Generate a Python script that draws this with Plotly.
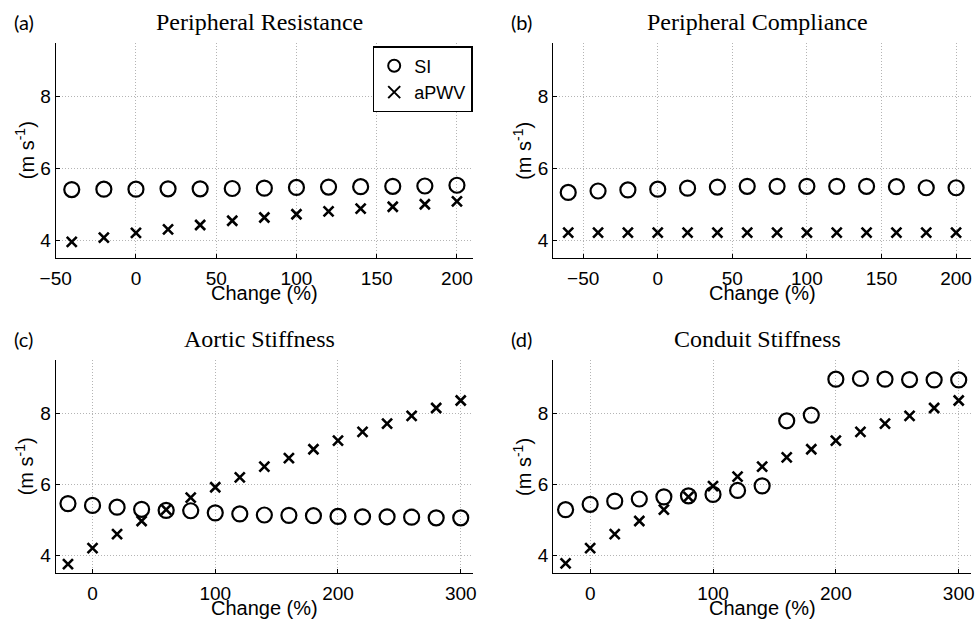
import plotly.graph_objects as go

# ---------------- data ----------------
x_a = [-40, -20, 0, 20, 40, 60, 80, 100, 120, 140, 160, 180, 200]
si_a = [5.41, 5.42, 5.42, 5.43, 5.43, 5.44, 5.45, 5.47, 5.48, 5.49, 5.50, 5.51, 5.53]
pwv_a = [3.95, 4.07, 4.20, 4.30, 4.42, 4.54, 4.63, 4.72, 4.80, 4.88, 4.93, 5.00, 5.08]

x_b = [-60, -40, -20, 0, 20, 40, 60, 80, 100, 120, 140, 160, 180, 200]
si_b = [5.33, 5.37, 5.40, 5.42, 5.45, 5.48, 5.50, 5.50, 5.50, 5.50, 5.50, 5.49, 5.46, 5.46]
pwv_b = [4.21, 4.21, 4.21, 4.21, 4.21, 4.21, 4.21, 4.21, 4.21, 4.21, 4.21, 4.21, 4.21, 4.21]

x_c = [-20, 0, 20, 40, 60, 80, 100, 120, 140, 160, 180, 200, 220, 240, 260, 280, 300]
si_c = [5.46, 5.41, 5.36, 5.30, 5.27, 5.26, 5.20, 5.17, 5.14, 5.13, 5.12, 5.10, 5.09, 5.09, 5.08, 5.06, 5.06]
pwv_c = [3.76, 4.21, 4.60, 4.97, 5.29, 5.63, 5.92, 6.20, 6.50, 6.74, 6.99, 7.23, 7.48, 7.71, 7.93, 8.15, 8.36]

x_d = [-20, 0, 20, 40, 60, 80, 100, 120, 140, 160, 180, 200, 220, 240, 260, 280, 300]
si_d = [5.29, 5.44, 5.53, 5.59, 5.65, 5.68, 5.72, 5.83, 5.96, 7.79, 7.95, 8.96, 8.98, 8.96, 8.95, 8.94, 8.94]
pwv_d = [3.78, 4.21, 4.60, 4.97, 5.29, 5.65, 5.95, 6.22, 6.50, 6.76, 6.99, 7.23, 7.48, 7.71, 7.93, 8.15, 8.36]

titles = ["Peripheral Resistance", "Peripheral Compliance", "Aortic Stiffness", "Conduit Stiffness"]
letters = ["(a)", "(b)", "(c)", "(d)"]
x_ranges = [[-50, 210], [-70, 210], [-30, 310], [-30, 310]]
x_dticks = [50, 50, 100, 100]
y_range = [3.5, 9.5]

panels = [(x_a, si_a, pwv_a), (x_b, si_b, pwv_b), (x_c, si_c, pwv_c), (x_d, si_d, pwv_d)]

# ---------------- layout geometry ----------------
W, H = 977, 620
x_doms = [[55.7 / W, 473 / W], [553.3 / W, 971 / W]]
y_doms = [[1 - 258 / H, 1 - 43 / H], [1 - 573.3 / H, 1 - 360 / H]]

SANS = "Liberation Sans"
SERIF = "Liberation Serif"

fig = go.Figure()
layout = dict(
    template="none",
    width=W, height=H,
    margin=dict(l=0, r=0, t=0, b=0, pad=0, autoexpand=False),
    paper_bgcolor="white", plot_bgcolor="white",
    showlegend=True,
    font=dict(family=SANS, size=19, color="black"),
    legend=dict(
        x=372.7 / W, y=1 - 46 / H, xanchor="left", yanchor="top",
        bordercolor="black", borderwidth=1.5, bgcolor="white",
        font=dict(family=SANS, size=18, color="black"),
        itemsizing="constant", tracegroupgap=0, itemwidth=30,
    ),
)
annotations = []

for i, (xv, si, pwv) in enumerate(panels):
    r, c = divmod(i, 2)
    ax = "" if i == 0 else str(i + 1)
    xa, ya = "x" + ax, "y" + ax
    fig.add_trace(go.Scatter(
        x=xv, y=si, mode="markers", name="SI", showlegend=(i == 0),
        xaxis=xa, yaxis=ya,
        marker=dict(symbol="circle-open", size=15, color="black", line=dict(width=2.2, color="black")),
    ))
    fig.add_trace(go.Scatter(
        x=xv, y=pwv, mode="markers", name="aPWV", showlegend=(i == 0),
        xaxis=xa, yaxis=ya,
        marker=dict(symbol="x-thin", size=10, color="black", line=dict(width=2.6, color="black")),
    ))
    common = dict(
        showline=True, linecolor="black", linewidth=1.3, mirror=False,
        ticks="inside", ticklen=4, tickcolor="black", tickwidth=1,
        showgrid=True, gridcolor="#b4b4b4", griddash="1px,2px", gridwidth=1,
        zeroline=False, automargin=False,
        tickfont=dict(family=SANS, size=19, color="black"),
    )
    layout["xaxis" + ax] = dict(
        domain=x_doms[c], anchor=ya, range=x_ranges[i], dtick=x_dticks[i], tick0=0,
        ticklabelstandoff=3, **common,
    )
    layout["yaxis" + ax] = dict(
        domain=y_doms[r], anchor=xa, range=y_range, dtick=2, tick0=0,
        **common,
    )
    x0, x1 = x_doms[c]
    y0, y1 = y_doms[r]
    xc = (x0 + x1) / 2
    annotations.append(dict(
        text=titles[i], x=xc - 5 / W, y=y1 + 21 / H, xref="paper", yref="paper",
        xanchor="center", yanchor="middle", showarrow=False,
        font=dict(family=SERIF, size=24, color="black"),
    ))
    annotations.append(dict(
        text=letters[i], x=x0 - 44 / W, y=y1 + 21 / H, xref="paper", yref="paper",
        xanchor="left", yanchor="middle", showarrow=False,
        font=dict(family="Lato", size=20, color="black"),
    ))
    annotations.append(dict(
        text="Change (%)", x=xc, y=y0 - 35 / H, xref="paper", yref="paper",
        xanchor="center", yanchor="middle", showarrow=False,
        font=dict(family=SANS, size=20, color="black"),
    ))
    annotations.append(dict(
        text="(m s<sup>-1</sup>)", x=x0 - 31 / W, y=(y0 + y1) / 2, xref="paper", yref="paper",
        xanchor="center", yanchor="middle", showarrow=False, textangle=-90,
        font=dict(family=SANS, size=20, color="black"),
    ))

layout["annotations"] = annotations
fig.update_layout(**layout)
fig.write_html(
    "out.html",
    config={"displayModeBar": False},
    post_script="document.body.style.margin='0';document.body.style.padding='0';",
)
